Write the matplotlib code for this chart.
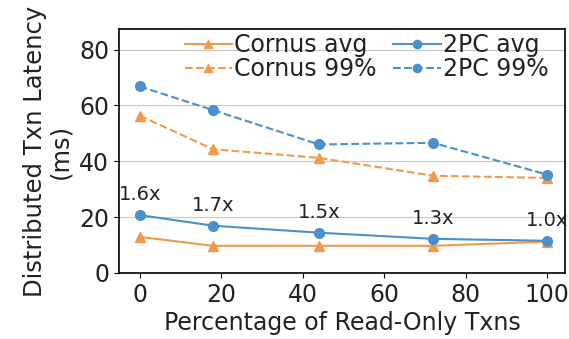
import matplotlib.pyplot as plt

# ---- data ----
readOnlyPct = [0, 18, 44, 72, 100]
cornusAvg = [12.9, 9.7, 9.7, 9.7, 11.2]
cornus99 = [56.3, 44.3, 41.2, 34.8, 34.0]
twoPcAvg = [20.7, 16.9, 14.4, 12.2, 11.5]
twoPc99 = [66.8, 58.3, 46.0, 46.6, 35.2]
speedupLabels = ['1.6x', '1.7x', '1.5x', '1.3x', '1.0x']

orange = '#f39a4a'
blue = '#4a90cc'
txtCol = '#222222'
fs = 17

fig = plt.figure(figsize=(5.69, 3.39), dpi=100)
ax = fig.add_axes([0.209, 0.195, 0.784, 0.719])

ax.plot(readOnlyPct, cornusAvg, '-', marker='^', color=orange, markersize=7, label='Cornus avg')
ax.plot(readOnlyPct, cornus99, '--', marker='^', color=orange, markersize=7, label='Cornus 99%')
ax.plot(readOnlyPct, twoPcAvg, '-', marker='o', color=blue, markersize=7, label='2PC avg')
ax.plot(readOnlyPct, twoPc99, '--', marker='o', color=blue, markersize=7, label='2PC 99%')

# speedup annotations above 2PC avg
for xv, yv, lab in zip(readOnlyPct, twoPcAvg, speedupLabels):
	ax.annotate(lab, (xv, yv), xytext=(0, 8), textcoords='offset points',
		ha='center', va='bottom', fontsize=14, color=txtCol, annotation_clip=False)

ax.set_xlim(-5.1, 104.4)
ax.set_ylim(0, 87.3)
ax.set_xticks([0, 20, 40, 60, 80, 100])
ax.set_yticks([0, 20, 40, 60, 80])
ax.yaxis.grid(True, color='#c8c8c8', linewidth=0.8)
ax.set_axisbelow(True)
ax.tick_params(labelsize=fs, labelcolor=txtCol)

ax.set_xlabel('Percentage of Read-Only Txns', fontsize=fs, labelpad=3, color=txtCol)
ax.set_ylabel('Distributed Txn Latency\n(ms)', fontsize=17.5, linespacing=1.05, labelpad=5, color=txtCol)

leg = ax.legend(ncol=2, frameon=False, loc='upper right', bbox_to_anchor=(1.0, 1.05),
	fontsize=fs, handlelength=2.0, labelspacing=0.0, columnspacing=0.7,
	handletextpad=0.1, borderpad=0.2, markerscale=0.85)
for t in leg.get_texts():
	t.set_color(txtCol)

for sp in ax.spines.values():
	sp.set_linewidth(1.2)

fig.savefig('out.png', dpi=100)
